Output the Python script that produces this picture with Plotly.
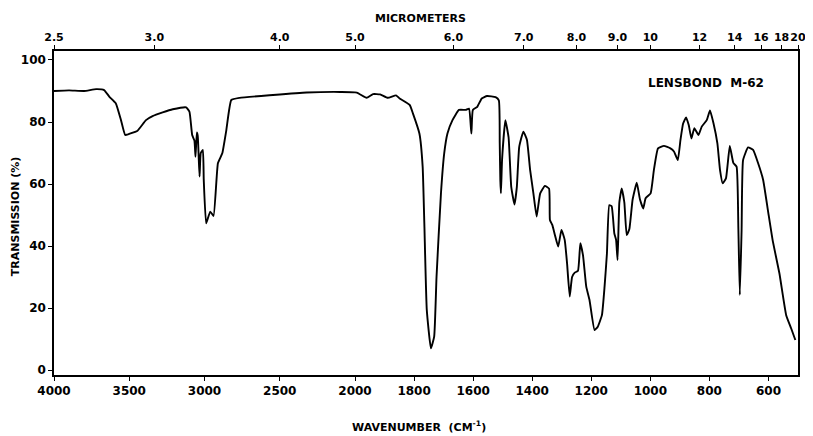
import plotly.graph_objects as go

# ---- data ----
wavenumber = [4000, 3900, 3800, 3720, 3667, 3633, 3589, 3555, 3527, 3500, 3445, 3389,
              3345, 3278, 3211, 3122, 3100, 3082, 3067, 3060, 3051, 3045, 3033, 3025,
              3011, 3005, 2989, 2962, 2940, 2911, 2882, 2855, 2822, 2767, 2545, 2322,
              2100, 1994, 1961, 1939, 1915, 1889, 1861, 1849, 1815, 1804, 1782, 1771,
              1765, 1757, 1743, 1732, 1724, 1709, 1698, 1687, 1670, 1648, 1625, 1614,
              1606, 1601, 1586, 1571, 1553, 1524, 1513, 1510, 1508, 1506, 1502, 1491,
              1480, 1471, 1460, 1452, 1444, 1430, 1418, 1407, 1396, 1385, 1373, 1357,
              1343, 1340, 1332, 1323, 1312, 1301, 1290, 1282, 1273, 1265, 1256, 1245,
              1237, 1228, 1217, 1206, 1189, 1178, 1164, 1155, 1147, 1139, 1131, 1122,
              1116, 1111, 1105, 1097, 1088, 1080, 1071, 1060, 1046, 1035, 1024, 1016,
              999, 988, 974, 954, 932, 920, 907, 898, 889, 879, 870, 861,
              851, 837, 826, 809, 798, 786, 773, 764, 755, 744, 731, 719,
              708, 702, 697, 691, 686, 669, 652, 635, 618, 602, 585, 563,
              540, 523, 509]
transmission = [90.0, 90.2, 90.0, 90.6, 90.3, 88.2, 86.0, 80.6, 75.8, 76.2, 77.2, 80.6,
                81.9, 83.1, 84.1, 84.7, 83.3, 75.8, 74.0, 68.8, 76.6, 75.5, 62.4, 70.0,
                71.0, 61.3, 47.3, 51.1, 49.7, 66.7, 69.9, 77.4, 87.1, 87.8, 88.7, 89.5,
                89.7, 89.5, 87.8, 89.0, 88.9, 87.8, 88.6, 87.6, 85.5, 82.8, 76.3, 65.6,
                46.2, 19.4, 7.0, 10.8, 30.1, 57.0, 69.9, 76.3, 80.6, 83.9, 83.9, 84.3,
                76.3, 83.9, 84.9, 87.6, 88.4, 88.0, 87.0, 73.1, 61.3, 57.0, 68.0, 80.6,
                75.0, 59.1, 53.4, 59.1, 72.0, 76.9, 74.3, 64.5, 57.0, 49.5, 57.0, 59.4,
                58.5, 48.4, 46.8, 43.5, 39.8, 45.2, 42.0, 34.4, 23.7, 30.0, 31.4, 32.0,
                40.9, 37.0, 26.9, 22.6, 12.9, 14.0, 17.7, 26.9, 37.6, 53.2, 52.8, 44.1,
                42.0, 35.5, 54.0, 58.6, 54.0, 43.5, 45.5, 55.0, 60.4, 55.0, 52.1, 55.4,
                57.0, 64.5, 71.5, 72.3, 71.5, 70.5, 67.7, 74.2, 79.5, 81.5, 79.0, 74.7,
                78.0, 75.8, 78.5, 80.6, 83.7, 79.5, 73.1, 64.5, 60.2, 61.8, 72.3, 66.8,
                65.6, 46.0, 24.2, 45.0, 67.7, 71.8, 71.0, 66.7, 61.3, 51.6, 41.4, 31.2,
                17.7, 13.4, 9.7]

wn_ticks_high = [4000, 3500, 3000, 2500, 2000]
wn_ticks_low = [1800, 1600, 1400, 1200, 1000, 800, 600]
micron_high = [2.5, 3.0, 4.0, 5.0]
micron_high_labels = ["2.5", "3.0", "4.0", "5.0"]
micron_low = [6.0, 7.0, 8.0, 9.0, 10, 12, 14, 16, 18, 20]
micron_low_labels = ["6.0", "7.0", "8.0", "9.0", "10", "12", "14", "16", "18", "20"]
y_ticks = [0, 20, 40, 60, 80, 100]

FONT = "DejaVu Sans"
split = 0.4046

line = dict(color="black", width=1.9)
fig = go.Figure()
fig.add_trace(go.Scatter(x=wavenumber, y=transmission, mode="lines",
                         line=dict(line, shape="spline", smoothing=0.4),
                         xaxis="x", yaxis="y", showlegend=False, hoverinfo="skip"))
fig.add_trace(go.Scatter(x=wavenumber, y=transmission, mode="lines",
                         line=dict(line, shape="spline", smoothing=0.4),
                         xaxis="x2", yaxis="y2", showlegend=False, hoverinfo="skip"))
fig.add_trace(go.Scatter(x=[3000], y=[50], xaxis="x3", yaxis="y", mode="markers",
                         marker=dict(opacity=0), showlegend=False, hoverinfo="skip"))
fig.add_trace(go.Scatter(x=[1000], y=[50], xaxis="x4", yaxis="y2", mode="markers",
                         marker=dict(opacity=0), showlegend=False, hoverinfo="skip"))

tickfont = dict(family=FONT, size=12, color="black", weight="bold")
topfont = dict(family=FONT, size=11, color="black", weight="bold")
common = dict(showgrid=False, zeroline=False, showline=True, linecolor="black",
              linewidth=1.5, ticks="outside", ticklen=4, tickwidth=1.2,
              tickcolor="black", automargin=False, tickangle=0)

fig.update_layout(
    width=805, height=428,
    margin=dict(l=46, r=15, t=43, b=61),
    paper_bgcolor="white", plot_bgcolor="white",
    xaxis=dict(domain=[0, split], range=[4000, 2000], anchor="y",
               tickvals=wn_ticks_high, tickfont=tickfont, **common),
    xaxis2=dict(domain=[split, 1], range=[2000, 500], anchor="y2",
                tickvals=wn_ticks_low, tickfont=tickfont, **common),
    xaxis3=dict(overlaying="x", side="top", range=[4000, 2000], anchor="y",
                tickvals=[10000 / m for m in micron_high], ticktext=micron_high_labels,
                tickfont=topfont, **common),
    xaxis4=dict(overlaying="x2", side="top", range=[2000, 500], anchor="y2",
                tickvals=[10000 / m for m in micron_low], ticktext=micron_low_labels,
                tickfont=topfont, **common),
    yaxis=dict(domain=[0, 1], range=[-1.6, 102.9], anchor="x", side="left",
               tickvals=y_ticks, tickfont=tickfont, **common),
    yaxis2=dict(domain=[0, 1], range=[-1.6, 102.9], anchor="x2", side="right",
                matches="y", showgrid=False, zeroline=False, showline=True,
                linecolor="black", linewidth=1.5, ticks="", showticklabels=False,
                automargin=False),
    annotations=[
        dict(text="MICROMETERS", xref="paper", yref="paper", x=0.492, y=1.0,
             yshift=33, xanchor="center", yanchor="middle", showarrow=False,
             font=dict(family=FONT, size=11, color="black", weight="bold")),
        dict(text="WAVENUMBER  (CM<sup>-1</sup>)", xref="paper", yref="paper",
             x=0.49, y=0, yshift=-51, xanchor="center", yanchor="middle",
             showarrow=False,
             font=dict(family=FONT, size=11, color="black", weight="bold")),
        dict(text="TRANSMISSION (%)", xref="paper", yref="paper", x=0, xshift=-39,
             y=0.49, xanchor="center", yanchor="middle", textangle=-90,
             showarrow=False,
             font=dict(family=FONT, size=11, color="black", weight="bold")),
        dict(text="LENSBOND  M-62", xref="paper", yref="paper", x=0.876, y=0.901,
             xanchor="center", yanchor="middle", showarrow=False,
             font=dict(family=FONT, size=12, color="black", weight="bold")),
    ],
)

fig.write_html("out.html")
